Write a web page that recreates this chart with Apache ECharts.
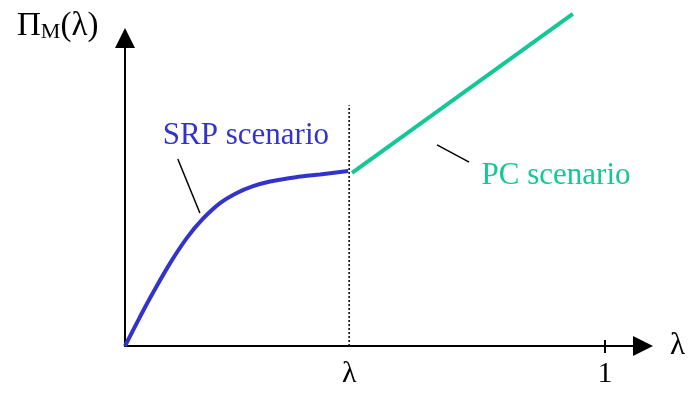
<!DOCTYPE html>
<html>
<head>
<meta charset="utf-8">
<script src="https://cdn.jsdelivr.net/npm/echarts@6/dist/echarts.min.js"></script>
<style>
  html, body { margin: 0; padding: 0; background: #fff; }
  #chart { width: 693px; height: 393px; }
</style>
</head>
<body>
<div id="chart"></div>
<script>
// x: 0..1 (lambda), y: profit, arbitrary units
const srpX = [0, 0.031, 0.058, 0.094, 0.129, 0.163, 0.198, 0.233, 0.267, 0.302, 0.338, 0.371, 0.406, 0.465];
const srpY = [0, 0.094, 0.172, 0.269, 0.351, 0.414, 0.464, 0.497, 0.519, 0.534, 0.544, 0.551, 0.557, 0.568];
const pcX = [0.473, 0.933];
const pcY = [0.562, 1.078];
const lambdaStar = 0.467;
const dottedTop = 0.782;
const tickValues = [0.467, 1];
const tickLabels = ['λ', '1'];
const srpLeader = [[0.110, 0.607], [0.156, 0.432]];
const pcLeader = [[0.65, 0.653], [0.717, 0.597]];
const notes = [
  { x: 0.252, y: 0.682, text: 'SRP scenario', color: '#3333cc' },
  { x: 0.898, y: 0.552, text: 'PC scenario', color: '#14c896' }
];

const serif = '"Liberation Serif", "DejaVu Serif", serif';
const chart = echarts.init(document.getElementById('chart'));

const option = {
  animation: false,
  backgroundColor: '#fff',
  grid: { left: 125, right: 50, top: 38, bottom: 47 },
  graphic: [{
    type: 'text',
    left: 17,
    top: 10,
    style: {
      text: '{a|Π}{b|M}{a|(λ)}',
      rich: {
        a: { fontFamily: serif, fontSize: 33, fill: '#000' },
        b: { fontFamily: serif, fontSize: 22, fill: '#000', padding: [12, 0, 0, 0] }
      }
    }
  }],
  xAxis: {
    type: 'value',
    min: 0,
    max: 1.0792,
    name: 'λ',
    nameLocation: 'end',
    nameGap: 27,
    nameTextStyle: { fontFamily: serif, fontSize: 31, color: '#000' },
    axisLine: { lineStyle: { color: '#000', width: 2 }, symbol: ['none', 'triangle'], symbolSize: [20, 20] },
    axisTick: { show: false },
    splitLine: { show: false },
    axisLabel: {
      customValues: tickValues,
      margin: 13,
      fontFamily: serif,
      fontSize: 30,
      color: '#000',
      formatter: v => tickLabels[tickValues.indexOf(v)] || ''
    }
  },
  yAxis: {
    type: 'value',
    min: 0,
    max: 1,
    axisLine: { show: true, lineStyle: { color: '#000', width: 2 }, symbol: ['none', 'triangle'], symbolSize: [20, 20] },
    axisTick: { show: false },
    axisLabel: { show: false },
    splitLine: { show: false }
  },
  series: [
    {
      name: 'lambda',
      type: 'line',
      data: [[lambdaStar, 0], [lambdaStar, dottedTop]],
      symbol: 'none',
      lineStyle: { color: '#000', width: 1.5, type: [2, 2] },
      z: 1
    },
    {
      name: 'tick1',
      type: 'line',
      data: [[1, -0.0227], [1, 0.0195]],
      symbol: 'none',
      clip: false,
      lineStyle: { color: '#000', width: 2 }
    },
    {
      name: 'SRP',
      type: 'line',
      data: srpX.map((x, i) => [x, srpY[i]]),
      smooth: 0.3,
      symbol: 'none',
      clip: false,
      lineStyle: { color: '#3333cc', width: 4 },
      z: 3
    },
    {
      name: 'PC',
      type: 'line',
      data: pcX.map((x, i) => [x, pcY[i]]),
      symbol: 'none',
      clip: false,
      lineStyle: { color: '#14c896', width: 4 },
      z: 3
    },
    {
      name: 'srpLeader',
      type: 'line',
      data: srpLeader,
      symbol: 'none',
      lineStyle: { color: '#000', width: 1.5 }
    },
    {
      name: 'pcLeader',
      type: 'line',
      data: pcLeader,
      symbol: 'none',
      lineStyle: { color: '#000', width: 1.5 }
    },
    {
      name: 'notes',
      type: 'scatter',
      symbolSize: 0,
      clip: false,
      itemStyle: { opacity: 1 },
      data: notes.map(n => ({
        value: [n.x, n.y],
        label: {
          show: true,
          position: 'inside',
          formatter: n.text,
          color: n.color,
          opacity: 1,
          fontFamily: serif,
          fontSize: 31
        }
      }))
    }
  ]
};

chart.setOption(option);
window.addEventListener('resize', () => chart.resize());
</script>
</body>
</html>
